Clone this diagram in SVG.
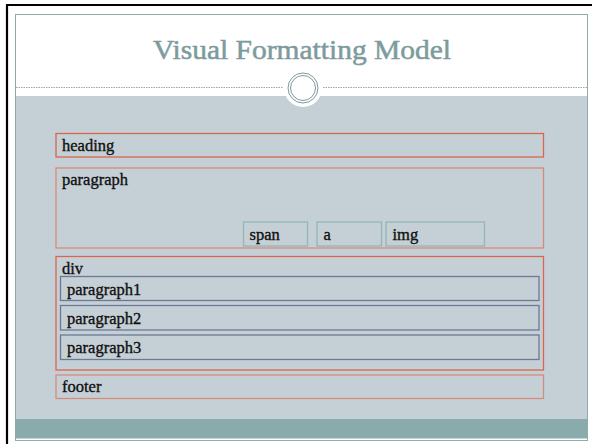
<svg xmlns="http://www.w3.org/2000/svg" width="592" height="444" viewBox="0 0 592 444">
<style>
.lbl{font-family:"Liberation Serif","Times New Roman",serif;font-size:16.5px;fill:#111111;stroke:#111111;stroke-width:0.35}
.outer{fill:none;stroke:#d9654d;stroke-width:1.3}
.outer2{fill:none;stroke:#d78a7c;stroke-width:1.3}
.inl{fill:none;stroke:#93b5b6;stroke-width:1.3}
.sub{fill:none;stroke:#6d7894;stroke-width:1.3}
</style>
<rect x="0" y="0" width="592" height="444" fill="#ffffff"/>
<g id="slide">
<rect x="15.5" y="14.5" width="572" height="426" fill="#ffffff" stroke="#90aaae" stroke-width="1"/>
<rect x="16" y="96" width="571" height="323" fill="#c5d0d6"/>
<rect x="16" y="419" width="571" height="19.5" fill="#8aabac"/>
<line x1="16" y1="87.5" x2="283" y2="87.5" stroke="#9aa6aa" stroke-width="1" stroke-dasharray="1.5 1"/>
<line x1="323" y1="87.5" x2="587" y2="87.5" stroke="#9aa6aa" stroke-width="1" stroke-dasharray="1.5 1"/>
<circle cx="303" cy="88" r="19" fill="#ffffff"/>
<circle cx="303" cy="88" r="15" fill="#ffffff" stroke="#7f9a9c" stroke-width="1"/>
<circle cx="303" cy="88" r="12.5" fill="none" stroke="#7f9a9c" stroke-width="1"/>
<text x="302" y="59" text-anchor="middle" font-family="Liberation Serif, Times New Roman, serif" font-size="27" fill="#7d9b9d" stroke="#7d9b9d" stroke-width="0.5" textLength="298" lengthAdjust="spacingAndGlyphs">Visual Formatting Model</text>
</g>
<path d="M7 444 V5 H592" fill="none" stroke="#000000" stroke-width="2.2"/>
<g id="heading">
<rect class="outer" x="56" y="133.5" width="487.5" height="23.5"/>
<text class="lbl" x="62" y="151">heading</text>
</g>
<g id="paragraph">
<rect class="outer2" x="56" y="168" width="487.5" height="80"/>
<text class="lbl" x="62" y="185">paragraph</text>
</g>
<g id="span">
<rect class="inl" x="243.5" y="222" width="64" height="24"/>
<text class="lbl" x="249.5" y="239.5">span</text>
</g>
<g id="a">
<rect class="inl" x="317" y="222" width="64.5" height="24"/>
<text class="lbl" x="323.5" y="239.5">a</text>
</g>
<g id="img">
<rect class="inl" x="386" y="222" width="98.5" height="24"/>
<text class="lbl" x="392.5" y="239.5">img</text>
</g>
<g id="div">
<rect class="outer" x="56" y="256.5" width="487.5" height="113.5"/>
<text class="lbl" x="62" y="273.5">div</text>
</g>
<g id="paragraph1">
<rect class="sub" x="60.5" y="276.5" width="478.5" height="24"/>
<text class="lbl" x="67" y="294.5">paragraph1</text>
</g>
<g id="paragraph2">
<rect class="sub" x="60.5" y="305.5" width="478.5" height="24.5"/>
<text class="lbl" x="67" y="324">paragraph2</text>
</g>
<g id="paragraph3">
<rect class="sub" x="60.5" y="335" width="478.5" height="24.5"/>
<text class="lbl" x="67" y="353">paragraph3</text>
</g>
<g id="footer">
<rect class="outer2" x="56" y="375" width="487.5" height="23.5"/>
<text class="lbl" x="62" y="391.5">footer</text>
</g>
<g id="connectors"></g>
</svg>
